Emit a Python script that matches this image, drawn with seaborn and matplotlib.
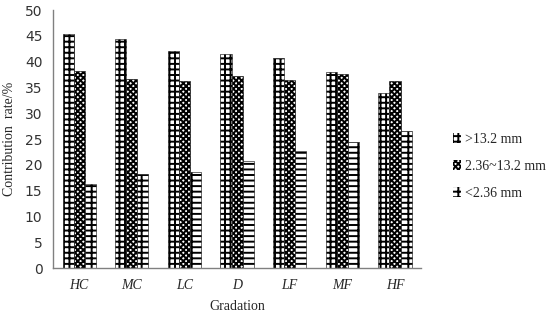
import matplotlib

matplotlib.use("Agg")

import matplotlib.pyplot as plt
import pandas as pd
import seaborn as sns

# chart values
gradations = ["HC", "MC", "LC", "D", "LF", "MF", "HF"]
sizes = [">13.2 mm", "2.36~13.2 mm", "<2.36 mm"]
coarse = [45.3, 44.3, 42.0, 41.4, 40.7, 37.9, 33.9]
medium = [38.1, 36.7, 36.2, 37.3, 36.5, 37.6, 36.2]
fine = [16.2, 18.2, 18.6, 20.8, 22.7, 24.5, 26.6]
hatches = ["+++", "xxxxxx", "---|"]

sns.set_theme(style="white")
plt.rcParams["font.family"] = ["Liberation Serif", "DejaVu Serif"]
plt.rcParams["hatch.linewidth"] = 1.4
plt.rcParams["hatch.color"] = "black"

df = pd.DataFrame({
    "Gradation": gradations * 3,
    "size": [s for s in sizes for _ in gradations],
    "rate": coarse + medium + fine,
})

fig = plt.figure(figsize=(5.5, 3.2), dpi=100)
ax = fig.add_axes([0.096, 0.1625, 0.67, 0.806])

sns.barplot(data=df, x="Gradation", y="rate", hue="size", order=gradations,
            hue_order=sizes, width=0.63, palette=["white"] * 3,
            edgecolor="black", linewidth=0.4, ax=ax, legend=False)

for container, h in zip(ax.containers, hatches):
    for bar in container:
        bar.set_hatch(h)

ax.set_ylim(0, 50)
ax.set_yticks(range(0, 51, 5))
ax.set_xlim(-0.5, len(gradations) - 0.5)
ax.set_xticks(range(len(gradations)))
ax.set_xticklabels(gradations, style="italic", fontsize=10)
ax.set_xticks([i + 0.5 for i in range(-1, len(gradations))], minor=True)
ax.tick_params(axis="x", which="major", length=0, pad=8)
ax.tick_params(axis="x", which="minor", length=4, direction="out", color="#808080")
ax.tick_params(axis="y", length=4, direction="out", color="#808080", labelsize=10)
for lab in ax.get_yticklabels():
    lab.set_family("DejaVu Sans")
    lab.set_color("#333333")

for side in ("top", "right"):
    ax.spines[side].set_visible(False)
for side in ("left", "bottom"):
    ax.spines[side].set_color("#808080")
    ax.spines[side].set_linewidth(1.0)

ax.set_xlabel("Gradation", fontsize=10, labelpad=6)
ax.set_ylabel("Contribution  rate/%", fontsize=10, labelpad=6)

handles = [plt.Rectangle((0, 0), 1, 1, facecolor="white", edgecolor="black",
                         linewidth=0, hatch=h) for h in hatches]
fig.legend(handles, sizes, loc="center left", bbox_to_anchor=(0.80, 0.48),
           frameon=False, fontsize=10, handlelength=0.6, handleheight=0.8,
           handletextpad=0.3, labelspacing=1.0)

fig.savefig("out.png", dpi=100)
